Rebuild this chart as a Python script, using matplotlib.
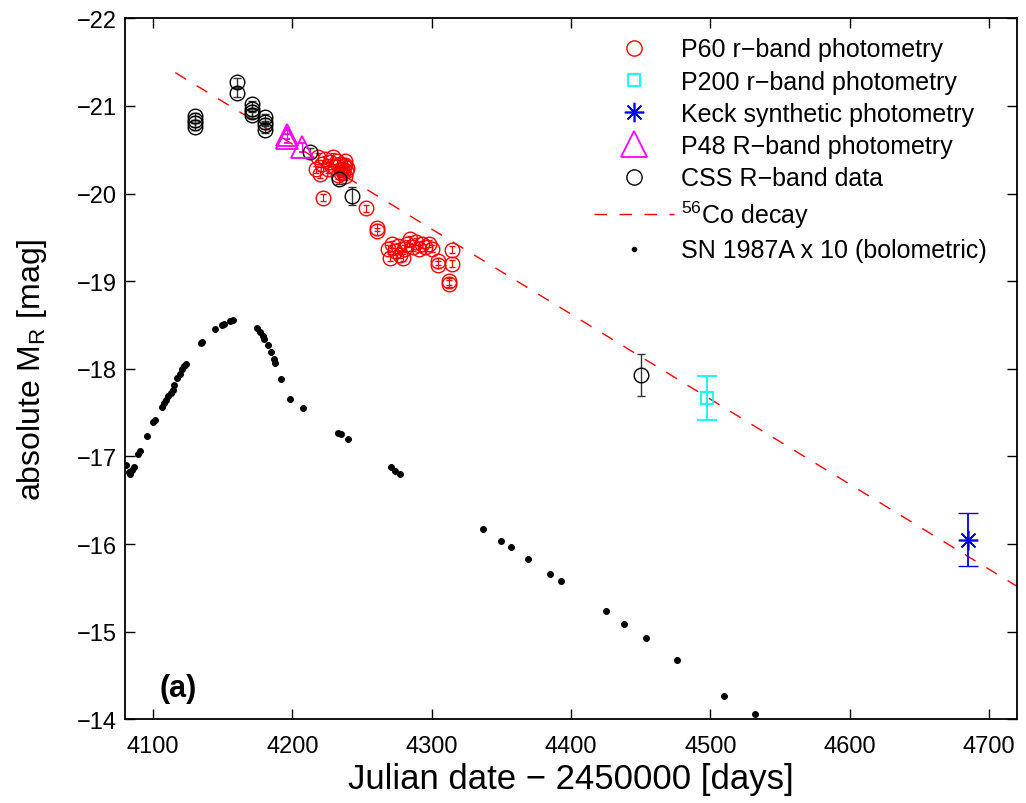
import numpy as np
import matplotlib
matplotlib.use('Agg')
import matplotlib.pyplot as plt

plt.rcParams['font.family'] = ['Liberation Sans', 'DejaVu Sans']
plt.rcParams['mathtext.fontset'] = 'custom'
plt.rcParams['mathtext.rm'] = 'Liberation Sans'

# P60 r-band photometry (JD - 2450000, absolute mag, error)
p60_t = [4218.5, 4221.4, 4223.6, 4225.7, 4227.2, 4229.3, 4230.8, 4232.2, 4234.4,
         4235.8, 4237.2, 4238.6, 4237.9, 4235.1, 4232.9, 4217.1, 4220.0, 4238.0,
         4236.5, 4237.5, 4239.0,
         4221.9, 4253.0, 4260.7, 4260.7,
         4268.8, 4271.7, 4273.8, 4276.0, 4277.4, 4280.3, 4282.4, 4284.6, 4286.7,
         4288.9, 4291.1, 4293.2, 4295.4, 4298.2, 4300.4, 4279.6, 4270.2,
         4304.9, 4304.9, 4314.5, 4314.5, 4312.8, 4312.8]
p60_m = [-20.42, -20.34, -20.39, -20.28, -20.36, -20.42, -20.30, -20.37, -20.34,
         -20.28, -20.31, -20.26, -20.37, -20.23, -20.21, -20.28, -20.22, -20.20,
         -20.25, -20.33, -20.29,
         -19.95, -19.83, -19.61, -19.57,
         -19.37, -19.42, -19.34, -19.40, -19.30, -19.37, -19.43, -19.48, -19.39,
         -19.45, -19.37, -19.42, -19.39, -19.43, -19.37, -19.27, -19.27,
         -19.23, -19.19, -19.36, -19.20, -19.00, -18.97]
p60_e = [0.04] * len(p60_t)

# P200 r-band photometry
p200_t = [4497.6]
p200_m = [-17.67]
p200_e = [0.25]

# Keck synthetic photometry
keck_t = [4684.7]
keck_m = [-16.05]
keck_e = [0.30]

# P48 R-band photometry
p48_t = [4196.5, 4196.5, 4206.7]
p48_m = [-20.67, -20.63, -20.53]
p48_e = [0.05, 0.05, 0.05]

# CSS R-band data
css_t = [4130.2, 4130.2, 4130.2, 4130.2, 4160.2, 4160.2,
         4171.0, 4171.0, 4171.0, 4171.0, 4180.5, 4180.5, 4180.5, 4180.5,
         4212.8, 4233.8, 4242.7, 4450.2]
css_m = [-20.88, -20.84, -20.80, -20.76, -21.27, -21.15,
         -21.02, -20.97, -20.93, -20.90, -20.87, -20.82, -20.78, -20.73,
         -20.47, -20.17, -19.97, -17.93]
css_e = [0.04, 0.04, 0.04, 0.04, 0.05, 0.05,
         0.04, 0.04, 0.04, 0.04, 0.04, 0.04, 0.04, 0.04,
         0.05, 0.06, 0.10, 0.24]

# 56Co decay line
co_t = [4116, 4720]
co_m = [-21.38, -15.52]

# SN 1987A x 10 (bolometric)
sn_t = [4080.7, 4082.4, 4083.6, 4084.8, 4086.0, 4089.5, 4090.8, 4095.6, 4100.3,
        4101.5, 4106.3, 4108.0, 4109.4, 4111.1, 4112.8, 4114.2, 4115.4, 4117.5,
        4119.0, 4120.7, 4122.4, 4123.8, 4134.3, 4135.5, 4144.6, 4149.4, 4150.6,
        4155.4, 4157.3, 4174.5, 4176.9, 4178.6, 4179.8, 4182.4, 4184.6, 4186.5,
        4187.7, 4191.8, 4198.5, 4208.0, 4233.1, 4234.8, 4240.3,
        4271.0, 4274.0, 4277.4, 4337.0, 4350.1, 4357.1, 4369.3, 4385.1, 4393.0,
        4425.1, 4438.2, 4454.0, 4476.0, 4509.5, 4532.3]
sn_m = [-16.90, -16.82, -16.80, -16.84, -16.88, -17.03, -17.06, -17.23, -17.39,
        -17.42, -17.56, -17.61, -17.64, -17.69, -17.72, -17.76, -17.82, -17.89,
        -17.94, -18.00, -18.03, -18.05, -18.29, -18.31, -18.45, -18.50, -18.51,
        -18.55, -18.56, -18.47, -18.42, -18.38, -18.34, -18.27, -18.19, -18.11,
        -18.07, -17.88, -17.66, -17.55, -17.27, -17.26, -17.20,
        -16.88, -16.83, -16.80, -16.17, -16.03, -15.97, -15.83, -15.66, -15.58,
        -15.24, -15.09, -14.93, -14.68, -14.27, -14.06]

fig = plt.figure(figsize=(10.26, 8.04), dpi=100)
ax = fig.add_axes([0.122, 0.104, 0.869, 0.872])

# data
ax.errorbar(p60_t, p60_m, yerr=p60_e, fmt='o', mfc='none', mec='red', ecolor='red',
            ms=10.5, mew=1.0, elinewidth=0.8, capsize=2, zorder=3)
ax.errorbar(css_t, css_m, yerr=css_e, fmt='o', mfc='none', mec='black', ecolor='#333333',
            ms=10.5, mew=1.0, elinewidth=1.0, capsize=3, zorder=3)
ax.errorbar(p48_t, p48_m, yerr=p48_e, fmt='^', mfc='none', mec='magenta', ecolor='magenta',
            ms=16, mew=1.3, elinewidth=0.8, capsize=2, zorder=3)
ax.errorbar(p200_t, p200_m, yerr=p200_e, fmt='s', mfc='none', mec='cyan', ecolor='cyan',
            ms=8, mew=1.3, elinewidth=1.3, capsize=7, zorder=3)
ax.errorbar(keck_t, keck_m, yerr=keck_e, fmt='none', ecolor='blue',
            elinewidth=1.3, capsize=7.5, zorder=3)
ax.plot(keck_t, keck_m, linestyle='none', marker=(8, 2, 0), color='blue', ms=14, mew=1.2,
        zorder=3)
ax.plot(co_t, co_m, color='red', lw=1.0, dashes=(9, 9), zorder=2)
ax.plot(sn_t, sn_m, linestyle='none', marker='o', color='black', ms=4, zorder=3)

# legend proxies
h1, = ax.plot([], [], 'o', mfc='none', mec='red', ms=11, mew=1.0)
h2, = ax.plot([], [], 's', mfc='none', mec='cyan', ms=9, mew=1.3)
h3, = ax.plot([], [], linestyle='none', marker=(8, 2, 0), color='blue', ms=14, mew=1.2)
h4, = ax.plot([], [], '^', mfc='none', mec='magenta', ms=19, mew=1.3)
h5, = ax.plot([], [], 'o', mfc='none', mec='black', ms=11, mew=1.0)
h6, = ax.plot([], [], color='red', lw=1.0, dashes=(9, 9))
h7, = ax.plot([], [], 'o', color='black', ms=3)
leg = ax.legend([h1, h2, h3, h4, h5, h6, h7],
                ['P60 r\u2212band photometry', 'P200 r\u2212band photometry',
                 'Keck synthetic photometry', 'P48 R\u2212band photometry',
                 'CSS R\u2212band data', r'$^{56}$Co decay', 'SN 1987A x 10 (bolometric)'],
                loc='upper right', frameon=False, fontsize=18, labelspacing=0.33,
                handlelength=3.2, handletextpad=0.3, borderaxespad=0.0,
                bbox_to_anchor=(0.978, 0.987))

ax.set_xlim(4080, 4720)
ax.set_ylim(-14, -22)
ax.set_xticks([4100, 4200, 4300, 4400, 4500, 4600, 4700])
ax.set_yticks([-22, -21, -20, -19, -18, -17, -16, -15, -14])
ax.set_yticklabels(['\u221222', '\u221221', '\u221220', '\u221219', '\u221218',
                    '\u221217', '\u221216', '\u221215', '\u221214'])
ax.tick_params(direction='in', top=True, right=True, labelsize=17, length=7, width=1)
ax.tick_params(axis='x', pad=11)
ax.tick_params(axis='y', pad=6)
for s in ax.spines.values():
    s.set_linewidth(1.3)

ax.set_xlabel('Julian date \u2212 2450000 [days]', fontsize=25, labelpad=4)
ax.set_ylabel(r'absolute M$_{\rm R}$ [mag]', fontsize=23, labelpad=20)
ax.text(0.039, 0.033, '(a)', transform=ax.transAxes, fontsize=22, fontweight='bold')

fig.savefig('out.png', dpi=100)
